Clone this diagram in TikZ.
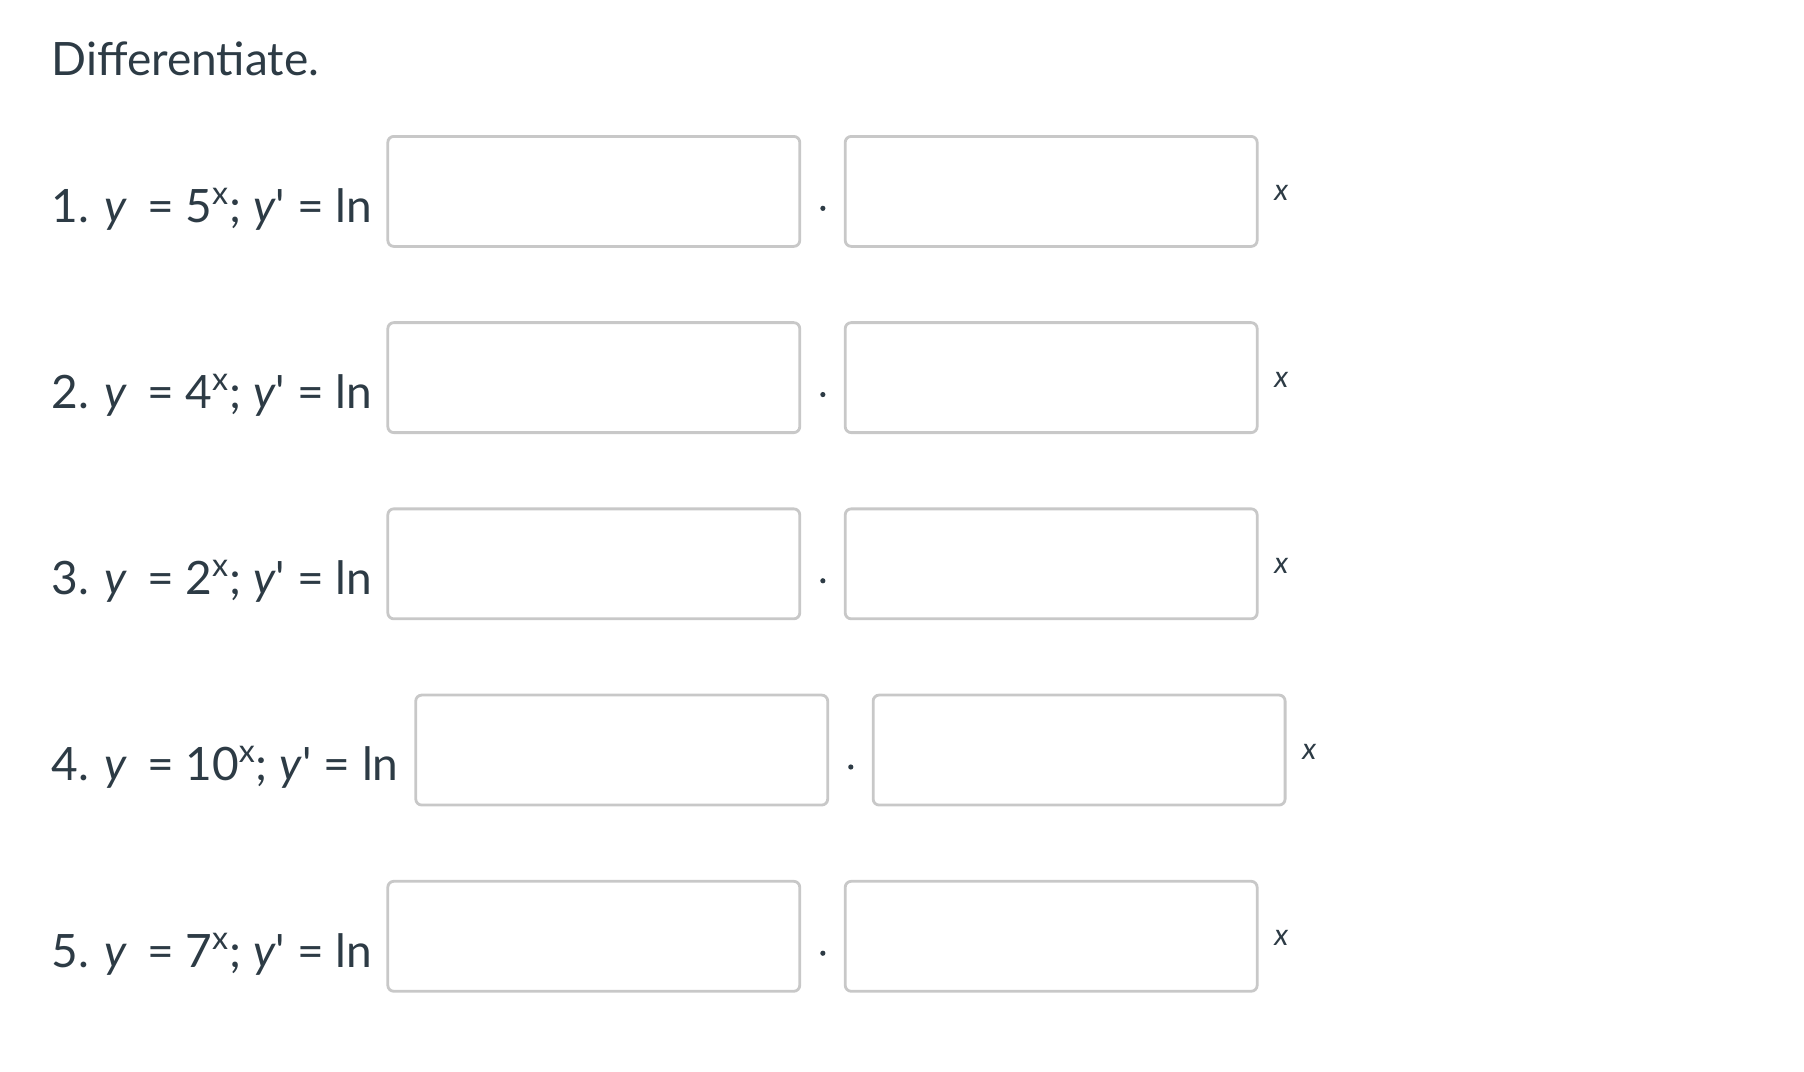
\documentclass[tikz,border=0pt]{standalone}
\usepackage{fontspec}
\setmainfont{Lato}
\usetikzlibrary{positioning}
\definecolor{boxgray}{RGB}{200,200,200}
\definecolor{txt}{RGB}{45,59,69}
\tikzset{
  ansbox/.style={draw=boxgray, line width=1.4pt, rounded corners=3pt, fill=white,
    minimum width=206pt, minimum height=55pt, anchor=north west, inner sep=0pt},
  eqtext/.style={anchor=base west, inner sep=0pt, text=txt, font=\fontsize{23}{26}\selectfont},
  xlabel/.style={text=txt, font=\fontsize{15}{18}\itshape\selectfont, inner sep=0pt},
  dotmark/.style={circle, fill=txt, inner sep=0pt, minimum size=2.6pt}
}
\begin{document}
\begin{tikzpicture}[x=0.582pt,y=-0.582pt]
\useasboundingbox (0,0) rectangle (1550,921);

% Title
\node (title) [eqtext] at (44,65) {Differentiate.};

% Rows
\foreach \i/\b/\dx in {1/5/0, 2/4/0, 3/2/0, 4/10/24, 5/7/0}{
  \pgfmathsetmacro{\ytop}{116+160*(\i-1)}
  \node (eq\i) [eqtext] at (44,\ytop+75) {\i. \textit{y}\, = \b\textsuperscript{x}; \textit{y}\textquotesingle{} = ln};
  \node (base\i) [ansbox] at (332+\dx,\ytop) {};
  \node (expo\i) [ansbox] at (725+\dx,\ytop) {};
  \node (dot\i) [dotmark] at (707+\dx,\ytop+63) {};
  \node (var\i) [xlabel] at (1101+\dx,\ytop+50) {x};
}
\end{tikzpicture}
\end{document}
